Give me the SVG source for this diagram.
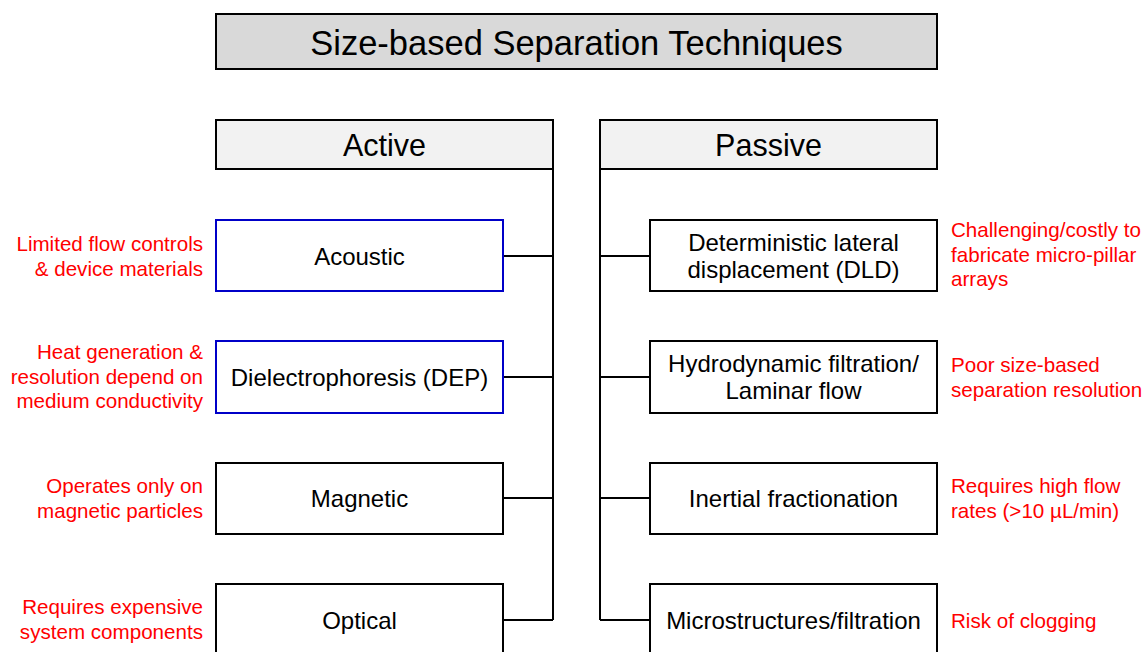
<svg xmlns="http://www.w3.org/2000/svg" width="1146" height="652" viewBox="0 0 1146 652">
  <style>
    text { font-family: "Liberation Sans", Arial, sans-serif; }
    .box { stroke: #000; stroke-width: 2; fill: #fff; }
    .blue { stroke: #0000c8; }
    .hdr { fill: #f2f2f2; }
    .ttl { fill: #d9d9d9; }
    .lbl { font-size: 24px; fill: #000; text-anchor: middle; }
    .cat { font-size: 30.5px; fill: #000; text-anchor: middle; }
    .note { font-size: 20.6px; fill: #ff0000; }
    .nl { text-anchor: end; }
    .wire { stroke: #000; stroke-width: 2; fill: none; }
  </style>
  <rect width="1146" height="652" fill="#fff"/>

  <!-- connectors -->
  <g id="connectors" class="wire">
    <path d="M553 169 V620 M503 256 H553 M503 377 H553 M503 498 H553 M503 620 H553"/>
    <path d="M600 169 V620 M600 256 H650 M600 377 H650 M600 498 H650 M600 620 H650"/>
  </g>

  <g id="title">
    <rect class="box ttl" x="216" y="14" width="721" height="55"/>
    <text x="576.5" y="55" font-size="34.5" text-anchor="middle">Size-based Separation Techniques</text>
  </g>

  <g id="active">
    <rect class="box hdr" x="216" y="120" width="337" height="49"/>
    <text class="cat" x="384.5" y="156">Active</text>
  </g>
  <g id="passive">
    <rect class="box hdr" x="600" y="120" width="337" height="49"/>
    <text class="cat" x="768.5" y="155.5">Passive</text>
  </g>

  <!-- active techniques -->
  <g id="acoustic">
    <rect class="box blue" x="216" y="220" width="287" height="71"/>
    <text class="lbl" x="359.5" y="264.5">Acoustic</text>
  </g>
  <g id="dep">
    <rect class="box blue" x="216" y="341" width="287" height="72"/>
    <text class="lbl" x="359.5" y="386">Dielectrophoresis (DEP)</text>
  </g>
  <g id="magnetic">
    <rect class="box" x="216" y="463" width="287" height="71"/>
    <text class="lbl" x="359.5" y="507">Magnetic</text>
  </g>
  <g id="optical">
    <rect class="box" x="216" y="584" width="287" height="80"/>
    <text class="lbl" x="359.5" y="629">Optical</text>
  </g>

  <!-- passive techniques -->
  <g id="dld">
    <rect class="box" x="650" y="220" width="287" height="71"/>
    <text class="lbl" x="793.5" y="251">Deterministic lateral</text>
    <text class="lbl" x="793.5" y="278">displacement (DLD)</text>
  </g>
  <g id="hydrodynamic">
    <rect class="box" x="650" y="341" width="287" height="72"/>
    <text class="lbl" x="793.5" y="372">Hydrodynamic filtration/</text>
    <text class="lbl" x="793.5" y="399">Laminar flow</text>
  </g>
  <g id="inertial">
    <rect class="box" x="650" y="463" width="287" height="71"/>
    <text class="lbl" x="793.5" y="507">Inertial fractionation</text>
  </g>
  <g id="microstructures">
    <rect class="box" x="650" y="584" width="287" height="80"/>
    <text class="lbl" x="793.5" y="629">Microstructures/filtration</text>
  </g>

  <!-- drawbacks -->
  <g id="notes-active">
    <text class="note nl" x="203" y="251">Limited flow controls</text>
    <text class="note nl" x="203" y="275.5">&amp; device materials</text>
    <text class="note nl" x="203" y="359">Heat generation &amp;</text>
    <text class="note nl" x="203" y="383.5">resolution depend on</text>
    <text class="note nl" x="203" y="408">medium conductivity</text>
    <text class="note nl" x="203" y="493">Operates only on</text>
    <text class="note nl" x="203" y="517.5">magnetic particles</text>
    <text class="note nl" x="203" y="614">Requires expensive</text>
    <text class="note nl" x="203" y="638.5">system components</text>
  </g>
  <g id="notes-passive">
    <text class="note" x="951" y="237">Challenging/costly to</text>
    <text class="note" x="951" y="261.5">fabricate micro-pillar</text>
    <text class="note" x="951" y="286">arrays</text>
    <text class="note" x="951" y="372">Poor size-based</text>
    <text class="note" x="951" y="396.5">separation resolution</text>
    <text class="note" x="951" y="493">Requires high flow</text>
    <text class="note" x="951" y="517.5">rates (&gt;10 µL/min)</text>
    <text class="note" x="951" y="628">Risk of clogging</text>
  </g>
</svg>
